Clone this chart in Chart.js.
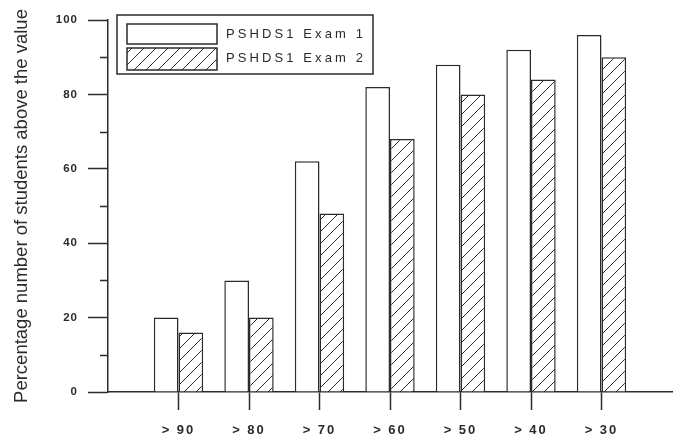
<!DOCTYPE html>
<html>
<head>
<meta charset="utf-8">
<script src="https://cdn.jsdelivr.net/npm/chart.js@4"></script>
<style>
html,body{margin:0;padding:0;background:#fff;}
#wrap{width:685px;height:438px;position:relative;}
</style>
</head>
<body>
<div id="wrap"><canvas id="c" width="685" height="438"></canvas></div>
<script>
const categories = ['> 90', '> 80', '> 70', '> 60', '> 50', '> 40', '> 30'];
const exam1 = [20, 30, 62, 82, 88, 92, 96];
const exam2 = [16, 20, 48, 68, 80, 84, 90];
const seriesNames = ['PSHDS1 Exam 1', 'PSHDS1 Exam 2'];
const yTitle = 'Percentage number of students above the value';

const INK = '#2b2b2b';

function makeHatch() {
  const s = 12;
  const c = document.createElement('canvas');
  c.width = s; c.height = s;
  const g = c.getContext('2d');
  g.fillStyle = '#fff';
  g.fillRect(0, 0, s, s);
  g.strokeStyle = INK;
  g.lineWidth = 1;
  g.beginPath();
  g.moveTo(-2, s + 2); g.lineTo(s + 2, -2);
  g.moveTo(-2, 2); g.lineTo(2, -2);
  g.moveTo(s - 2, s + 2); g.lineTo(s + 2, s - 2);
  g.stroke();
  return g.createPattern(c, 'repeat');
}
const hatch = makeHatch();

// pad with empty slots at both ends so the category axis spans one slot beyond the bars
const labels = [''].concat(categories, ['']);
const pad = arr => [null].concat(arr, [null]);

function spaced(scale, px) {
  if (scale._spaced) return;
  const orig = scale.drawLabels.bind(scale);
  scale.drawLabels = function (ca) {
    const c = this.ctx;
    c.save();
    c.letterSpacing = px;
    orig(ca);
    c.restore();
  };
  scale._spaced = true;
}

const minorTicks = {
  id: 'minorTicks',
  afterDraw(chart) {
    const y = chart.scales.y;
    const ctx = chart.ctx;
    const vals = y.ticks.map(t => t.value);
    ctx.save();
    ctx.strokeStyle = INK;
    ctx.lineWidth = 1.5;
    ctx.beginPath();
    for (let i = 0; i < vals.length - 1; i++) {
      const py = Math.round(y.getPixelForValue((vals[i] + vals[i + 1]) / 2)) + 0.5;
      ctx.moveTo(y.right - 8, py);
      ctx.lineTo(y.right, py);
    }
    ctx.stroke();
    ctx.restore();
  }
};

const boxLegend = {
  id: 'boxLegend',
  afterDraw(chart) {
    const ctx = chart.ctx;
    const ds = chart.data.datasets;
    ctx.save();
    ctx.strokeStyle = INK;
    ctx.lineWidth = 1.5;
    ctx.fillStyle = '#fff';
    ctx.fillRect(117, 15, 256, 59);
    ctx.strokeRect(117, 15, 256, 59);
    const rows = [{y: 24, h: 20, ty: 34.5}, {y: 48, h: 22, ty: 58.5}];
    ds.forEach((d, i) => {
      const r = rows[i];
      ctx.fillStyle = d.backgroundColor;
      ctx.fillRect(127, r.y, 90, r.h);
      ctx.lineWidth = 1.5;
      ctx.strokeStyle = INK;
      ctx.strokeRect(127, r.y, 90, r.h);
      ctx.fillStyle = INK;
      ctx.font = '13px "Liberation Sans", Arial, sans-serif';
      ctx.letterSpacing = '3.1px';
      ctx.textBaseline = 'middle';
      ctx.textAlign = 'left';
      ctx.fillText(d.label, 226, r.ty);
      ctx.letterSpacing = '0px';
    });
    ctx.restore();
  }
};

new Chart(document.getElementById('c'), {
  type: 'bar',
  data: {
    labels: labels,
    datasets: [
      {label: seriesNames[0], data: pad(exam1), backgroundColor: '#fff', borderColor: INK, borderWidth: 1.5},
      {label: seriesNames[1], data: pad(exam2), backgroundColor: hatch, borderColor: INK, borderWidth: 1.5}
    ]
  },
  options: {
    responsive: false,
    animation: false,
    devicePixelRatio: 1,
    categoryPercentage: 0.7,
    barPercentage: 1.0,
    layout: {padding: {top: 20, right: 7, left: 0, bottom: 0}},
    plugins: {legend: {display: false}, tooltip: {enabled: false}},
    scales: {
      x: {
        offset: false,
        grid: {
          offset: false,
          drawOnChartArea: false,
          drawTicks: true,
          tickLength: 18,
          tickWidth: 1.5,
          tickColor: c => (c.index === 0 || c.index === labels.length - 1) ? 'rgba(0,0,0,0)' : INK
        },
        border: {display: true, color: INK, width: 1.5},
        ticks: {
          color: INK,
          padding: 13,
          maxRotation: 0,
          autoSkip: false,
          font: {family: '"Liberation Sans", Arial, sans-serif', size: 13, weight: 'bold'}
        },
        afterFit(scale) { scale.height = 46; spaced(scale, '2px'); }
      },
      y: {
        min: 0,
        max: 100,
        ticks: {
          stepSize: 20,
          color: INK,
          padding: 10,
          font: {family: '"Liberation Sans", Arial, sans-serif', size: 11.5, weight: 'bold'}
        },
        grid: {
          drawOnChartArea: false,
          drawTicks: true,
          tickLength: 20,
          tickWidth: 1.5,
          tickColor: INK
        },
        border: {display: true, color: INK, width: 1.5},
        title: {
          display: true,
          text: yTitle,
          color: INK,
          padding: {top: 11, bottom: 0},
          font: {family: '"Liberation Sans", Arial, sans-serif', size: 18.5}
        },
        afterFit(scale) { scale.width = 108; spaced(scale, '1px'); }
      }
    }
  },
  plugins: [minorTicks, boxLegend]
});
</script>
</body>
</html>
